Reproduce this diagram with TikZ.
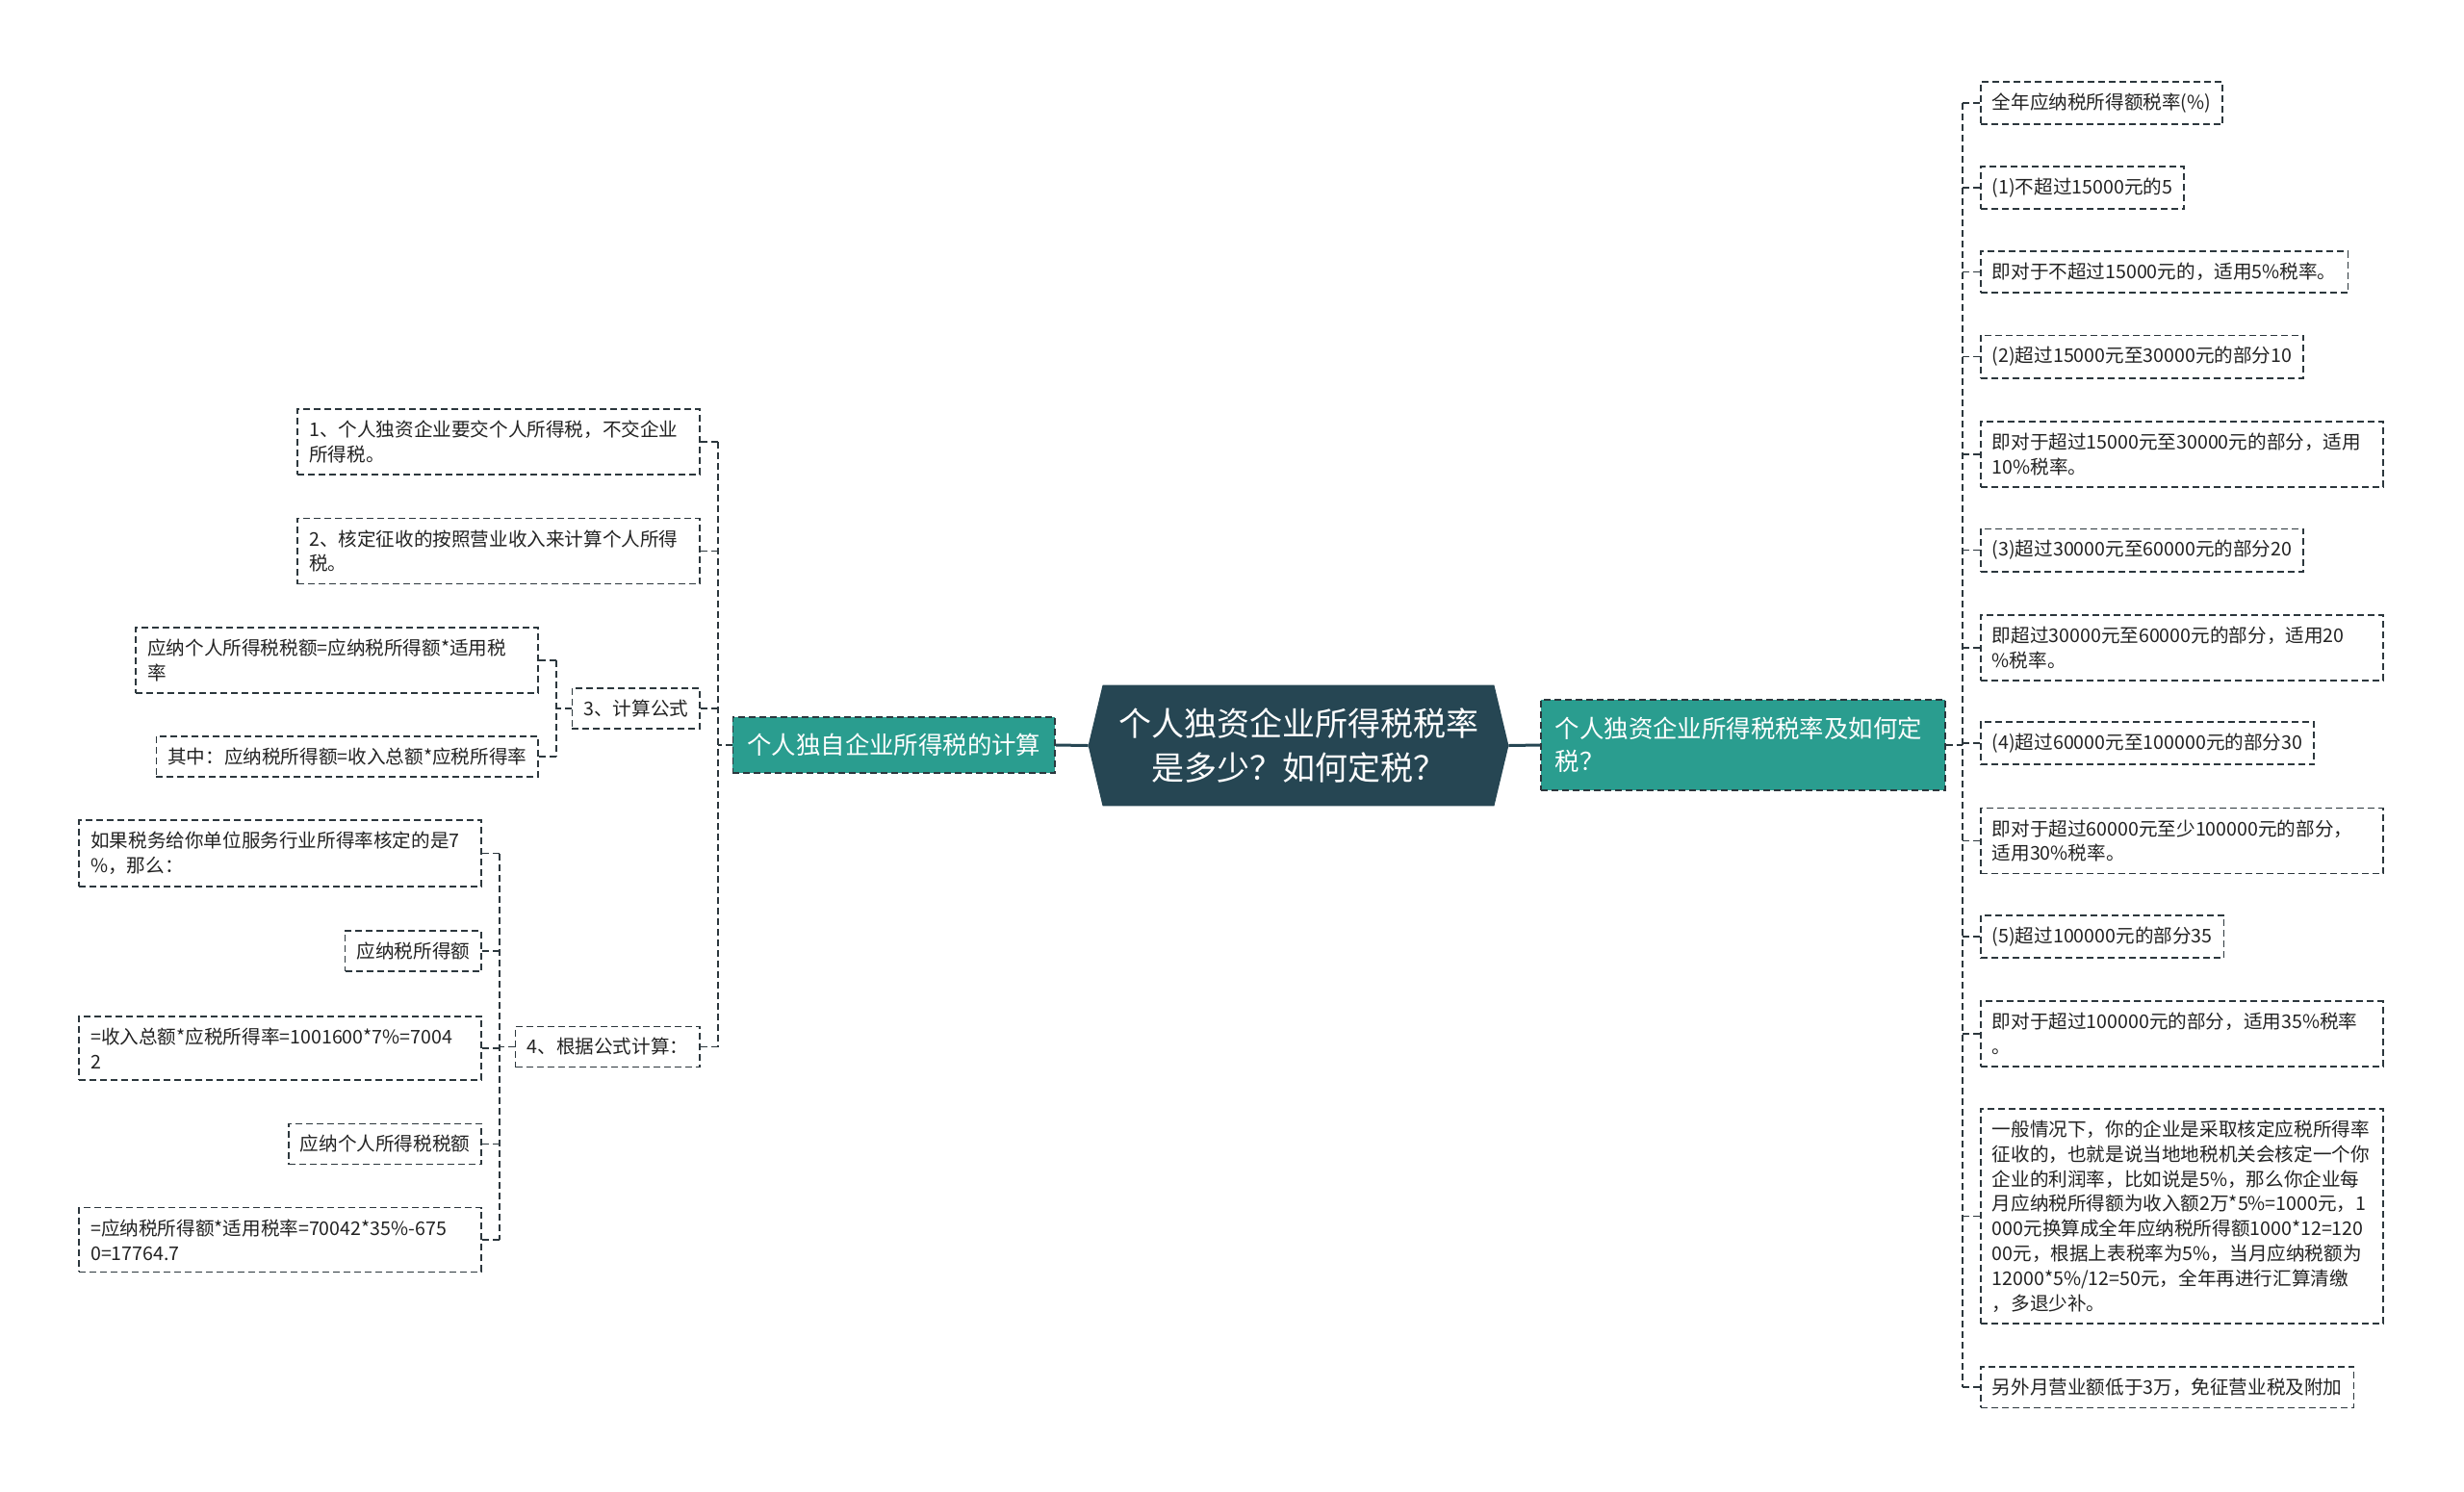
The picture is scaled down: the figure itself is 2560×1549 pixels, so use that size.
\documentclass[tikz,border=0pt]{standalone}
\usepackage{fontspec}
\setmainfont{Noto Sans CJK SC}
\usetikzlibrary{backgrounds, calc, positioning}

\definecolor{rootfill}{HTML}{264653}
\definecolor{branchfill}{HTML}{2A9D8F}
\definecolor{linecol}{HTML}{2C373D}
\definecolor{textcol}{HTML}{222222}

\tikzset{
    leaf/.style={draw=linecol, dash pattern=on 3.5pt off 2pt, line width=0.8pt, text=textcol,
        font=\fontsize{9.8}{12.9}\selectfont, align=left, inner xsep=6pt, inner ysep=6pt},
    wide/.style={leaf, text width=197pt},
    branch/.style={draw=linecol, dash pattern=on 3.5pt off 2pt, line width=0.8pt, fill=branchfill,
        text=white, font=\fontsize{12.7}{17}\selectfont, align=left, inner xsep=7.5pt, inner ysep=6pt},
    link/.style={draw=linecol, dash pattern=on 3.5pt off 2pt, line width=0.8pt},
    rootlink/.style={draw=rootfill, line width=1.5pt},
}

\begin{document}
\begin{tikzpicture}[x=0.5pt, y=-0.5pt]
    \useasboundingbox (0,0) rectangle (2560,1549);

    % central topic
    \node[minimum width=203pt, minimum height=62.5pt, text=white, align=center,
          font=\fontsize{17}{23}\selectfont] (root) at (1349,774.5)
          {个人独资企业所得税税率\\是多少？如何定税？};
    \coordinate (rootl) at ($(root.west) + (-15,0)$);
    \coordinate (rootr) at ($(root.east) + (15,0)$);
    \begin{scope}[on background layer]
        \fill[rootfill] (root.north west) -- (root.north east) -- (rootr)
            -- (root.south east) -- (root.south west) -- (rootl) -- cycle;
    \end{scope}

    % main branches
    \node[branch, anchor=east, minimum height=29pt] (lbr) at (1097,774) {个人独自企业所得税的计算};
    \node[branch, anchor=west, text width=195pt, minimum height=47pt] (rbr) at (1600,774)
        {个人独资企业所得税税率及如何定\\税？};

    \draw[rootlink] (lbr.east) -- (rootl);
    \draw[rootlink] (rootr) -- (rbr.west);

    % left side
    \node[wide, anchor=east] (l1) at (728,459) {1、个人独资企业要交个人所得税，不交企业\\所得税。};
    \node[wide, anchor=east] (l2) at (728,572.5) {2、核定征收的按照营业收入来计算个人所得\\税。};
    \node[leaf, anchor=east] (l3) at (728,736) {3、计算公式};
    \node[leaf, anchor=east] (l4) at (728,1087.5) {4、根据公式计算：};

    \node[wide, anchor=east] (l31) at (560,686) {应纳个人所得税税额=应纳税所得额*适用税\\率};
    \node[leaf, anchor=east] (l32) at (560,786) {其中：应纳税所得额=收入总额*应税所得率};

    \node[wide, anchor=east] (l41) at (501,886.5) {如果税务给你单位服务行业所得率核定的是7\\\%，那么：};
    \node[leaf, anchor=east] (l42) at (501,988) {应纳税所得额};
    \node[wide, anchor=east] (l43) at (501,1089) {=收入总额*应税所得率=1001600*7\%=7004\\2};
    \node[leaf, anchor=east] (l44) at (501,1188.5) {应纳个人所得税税额};
    \node[wide, anchor=east] (l45) at (501,1288) {=应纳税所得额*适用税率=70042*35\%-675\\0=17764.7};

    % right side
    \node[leaf, anchor=west] (r1) at (2057,107) {全年应纳税所得额税率(\%)};
    \node[leaf, anchor=west] (r2) at (2057,195) {(1)不超过15000元的5};
    \node[leaf, anchor=west] (r3) at (2057,282.5) {即对于不超过15000元的，适用5\%税率。};
    \node[leaf, anchor=west] (r4) at (2057,370.5) {(2)超过15000元至30000元的部分10};
    \node[wide, anchor=west] (r5) at (2057,472) {即对于超过15000元至30000元的部分，适用\\10\%税率。};
    \node[leaf, anchor=west] (r6) at (2057,571.5) {(3)超过30000元至60000元的部分20};
    \node[wide, anchor=west] (r7) at (2057,673) {即超过30000元至60000元的部分，适用20\\\%税率。};
    \node[leaf, anchor=west] (r8) at (2057,772) {(4)超过60000元至100000元的部分30};
    \node[wide, anchor=west] (r9) at (2057,873.5) {即对于超过60000元至少100000元的部分，\\适用30\%税率。};
    \node[leaf, anchor=west] (r10) at (2057,973) {(5)超过100000元的部分35};
    \node[wide, anchor=west] (r11) at (2057,1074) {即对于超过100000元的部分，适用35\%税率\\。};
    \node[wide, anchor=west] (r12) at (2057,1263.5) {一般情况下，你的企业是采取核定应税所得率\\征收的，也就是说当地地税机关会核定一个你\\企业的利润率，比如说是5\%，那么你企业每\\月应纳税所得额为收入额2万*5\%=1000元，1\\000元换算成全年应纳税所得额1000*12=120\\00元，根据上表税率为5\%，当月应纳税额为\\12000*5\%/12=50元，全年再进行汇算清缴\\，多退少补。};
    \node[leaf, anchor=west] (r13) at (2057,1441) {另外月营业额低于3万，免征营业税及附加};

    % connectors
    \coordinate (ltrunk) at (746,774);
    \coordinate (l3trunk) at (578,736);
    \coordinate (l4trunk) at (519,1087.5);
    \coordinate (rtrunk) at (2039,774);

    \draw[link] (lbr.west) -- (ltrunk);
    \draw[link] (ltrunk |- l1.east) -- (ltrunk |- l4.east);
    \foreach \n in {l1,l2,l3,l4}
        \draw[link] (ltrunk |- \n.east) -- (\n.east);

    \draw[link] (l3.west) -- (l3trunk);
    \draw[link] (l3trunk |- l31.east) -- (l3trunk |- l32.east);
    \foreach \n in {l31,l32}
        \draw[link] (l3trunk |- \n.east) -- (\n.east);

    \draw[link] (l4.west) -- (l4trunk);
    \draw[link] (l4trunk |- l41.east) -- (l4trunk |- l45.east);
    \foreach \n in {l41,l42,l43,l44,l45}
        \draw[link] (l4trunk |- \n.east) -- (\n.east);

    \draw[link] (rbr.east) -- (rtrunk);
    \draw[link] (rtrunk |- r1.west) -- (rtrunk |- r13.west);
    \foreach \n in {r1,r2,r3,r4,r5,r6,r7,r8,r9,r10,r11,r12,r13}
        \draw[link] (rtrunk |- \n.west) -- (\n.west);

\end{tikzpicture}
\end{document}
